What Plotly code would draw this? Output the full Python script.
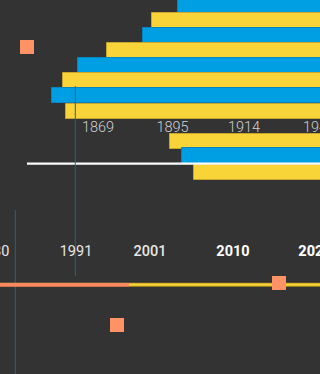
import plotly.graph_objects as go

# ---- data (abstract timeline units; x grows right, y grows down) ----
top_bar_start = [178, 152, 142.7, 106.7, 78.3, 63.3, 52.3, 66]
top_bar_row = [5.3, 20.4, 35.4, 50.4, 65.4, 80.4, 95.6, 111.2]
top_bar_kind = ["blue", "yellow", "blue", "yellow", "blue", "yellow", "blue", "yellow"]

low_bar_start = [170, 182, 194.3]
low_bar_row = [141.7, 156, 172.2]
low_bar_kind = ["yellow", "blue", "yellow"]

top_tick_pos = [98, 172.5, 244, 319]
top_tick_text = ["1869", "1895", "1914", "1940"]

low_tick_pos = [-7, 76, 150, 233, 315]
low_tick_text = ["1980", "1991", "2001", "2010", "2020"]
low_tick_weight = [400, 400, 500, 700, 800]

markers_x = [27, 279, 117]
markers_y = [47, 283, 325]

timeline_split = [0, 129, 320]
timeline_row = 284.7
rule_x = [27, 320]
rule_row = 163.6
guides = [(75.3, 86, 276), (15.3, 210, 374)]

BG = "#333333"
COL = {"blue": "#009fe3", "yellow": "#f9d438"}
EDGE = {"blue": "#0686c0", "yellow": "#c8a52c"}
ORANGE = "#ff9365"
FONT = "Roboto, Liberation Sans, sans-serif"
RIGHT = 420

fig = go.Figure()

for starts, rows, kinds in [(top_bar_start, top_bar_row, top_bar_kind),
                            (low_bar_start, low_bar_row, low_bar_kind)]:
    fig.add_trace(go.Bar(
        orientation="h",
        y=rows,
        base=starts,
        x=[RIGHT - s for s in starts],
        width=[15.2] * len(rows),
        marker=dict(color=[COL[k] for k in kinds],
                    line=dict(color=[EDGE[k] for k in kinds], width=1)),
        hoverinfo="skip", showlegend=False,
    ))

# white rule
fig.add_trace(go.Scatter(x=rule_x, y=[rule_row, rule_row], mode="lines",
                         line=dict(color="#ffffff", width=2.2),
                         hoverinfo="skip", showlegend=False))

# vertical guides
for gx, y0, y1 in guides:
    fig.add_trace(go.Scatter(x=[gx, gx], y=[y0, y1], mode="lines",
                             line=dict(color="#1f6687", width=1),
                             hoverinfo="skip", showlegend=False))

# timeline: orange then yellow segment
fig.add_trace(go.Scatter(x=timeline_split[:2], y=[timeline_row] * 2, mode="lines",
                         line=dict(color="#ff8a5e", width=4),
                         hoverinfo="skip", showlegend=False))
fig.add_trace(go.Scatter(x=timeline_split[1:], y=[timeline_row] * 2, mode="lines",
                         line=dict(color="#b8961f", width=4),
                         hoverinfo="skip", showlegend=False))
fig.add_trace(go.Scatter(x=timeline_split[1:], y=[timeline_row] * 2, mode="lines",
                         line=dict(color="#f9d438", width=2.2),
                         hoverinfo="skip", showlegend=False))

# orange square markers
fig.add_trace(go.Scatter(x=markers_x, y=markers_y, mode="markers",
                         marker=dict(symbol="square", size=14, color=ORANGE,
                                     line=dict(width=0)),
                         hoverinfo="skip", showlegend=False))

# tick labels
fig.add_trace(go.Scatter(x=top_tick_pos, y=[128] * len(top_tick_pos), mode="text",
                         text=top_tick_text, textposition="middle center",
                         textfont=dict(family=FONT, size=14.5, color="#d0d0d0", weight=300),
                         hoverinfo="skip", showlegend=False))
for w in sorted(set(low_tick_weight)):
    xs = [p for p, ww in zip(low_tick_pos, low_tick_weight) if ww == w]
    ts = [t for t, ww in zip(low_tick_text, low_tick_weight) if ww == w]
    fig.add_trace(go.Scatter(x=xs, y=[252] * len(xs), mode="text",
                             text=ts, textposition="middle center",
                             textfont=dict(family=FONT, size=14.5,
                                           color="#e6e6e6" if w < 700 else "#ffffff",
                                           weight=w),
                             hoverinfo="skip", showlegend=False))

fig.update_layout(
    width=320, height=374,
    margin=dict(l=0, r=0, t=0, b=0, pad=0),
    paper_bgcolor=BG, plot_bgcolor=BG,
    xaxis=dict(range=[0, 320], visible=False, fixedrange=True),
    yaxis=dict(range=[374, 0], visible=False, fixedrange=True),
    barmode="overlay", bargap=0,
)

fig.write_html("out.html", config={"displayModeBar": False})
